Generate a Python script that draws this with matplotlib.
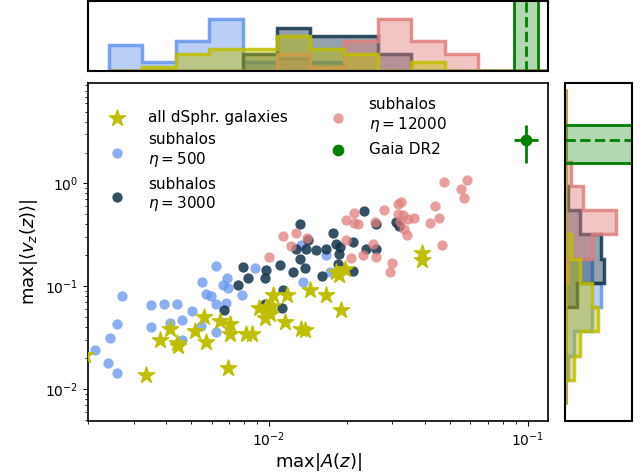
import numpy as np
import matplotlib
matplotlib.use("Agg")
import matplotlib.pyplot as plt
from matplotlib.colors import to_rgba

# --- data -----------------------------------------------------------------
# subhalos eta = 500
blue_x = [0.00622, 0.00886, 0.00551, 0.00690, 0.00664, 0.00694, 0.00569, 0.00598,
          0.00789, 0.00270, 0.00349, 0.00391, 0.00441, 0.00624, 0.00684, 0.00506,
          0.00462, 0.00413, 0.00258, 0.00351, 0.00548, 0.00626, 0.00242, 0.00462,
          0.00212, 0.00238, 0.00258, 0.01334, 0.01354, 0.01668, 0.01718]
blue_y = [0.156, 0.152, 0.110, 0.119, 0.104, 0.0971, 0.0836, 0.0800,
          0.0824, 0.0805, 0.0650, 0.0669, 0.0669, 0.0669, 0.0689, 0.0572,
          0.0468, 0.0441, 0.0428, 0.0403, 0.0415, 0.0363, 0.0311, 0.0299,
          0.0239, 0.0180, 0.0142, 0.250, 0.110, 0.200, 0.138]

# subhalos eta = 3000
dark_x = [0.02331, 0.01315, 0.02588, 0.03112, 0.01769, 0.01416, 0.01812, 0.02114,
          0.01268, 0.01396, 0.01525, 0.01658, 0.01877, 0.01865, 0.02382, 0.02604,
          0.01323, 0.01107, 0.01374, 0.00977, 0.01239, 0.01856, 0.02114, 0.01609,
          0.00965, 0.01133, 0.01120, 0.00793, 0.00829, 0.00761, 0.00668, 0.00962,
          0.0319]
dark_y = [0.538, 0.406, 0.406, 0.425, 0.332, 0.280, 0.256, 0.269,
          0.229, 0.232, 0.224, 0.232, 0.241, 0.208, 0.232, 0.232,
          0.184, 0.160, 0.152, 0.143, 0.138, 0.166, 0.141, 0.127,
          0.1215, 0.0929, 0.0621, 0.154, 0.120, 0.104, 0.0585, 0.0669,
          0.387]

# subhalos eta = 12000
pink_x = [0.0474, 0.0584, 0.0555, 0.0570, 0.0278, 0.0316, 0.0323, 0.0438,
          0.0316, 0.0330, 0.0345, 0.0364, 0.0455, 0.0419, 0.0321, 0.0332,
          0.0343, 0.0466, 0.0298, 0.0293, 0.0214, 0.0198, 0.0213, 0.0221,
          0.0256, 0.01276, 0.01133, 0.01408, 0.01221, 0.0198, 0.0253, 0.0230,
          0.0260, 0.0208, 0.0100]
pink_y = [1.03, 1.07, 0.875, 0.726, 0.556, 0.625, 0.661, 0.598,
          0.508, 0.489, 0.454, 0.461, 0.463, 0.414, 0.421, 0.363,
          0.313, 0.250, 0.170, 0.137, 0.515, 0.437, 0.412, 0.400,
          0.418, 0.331, 0.306, 0.292, 0.248, 0.280, 0.260, 0.202,
          0.1925, 0.188, 0.1925]

# dSph galaxies
dsph_x = [0.00195, 0.00335, 0.00380, 0.00415, 0.00441, 0.00517, 0.00559, 0.00573,
          0.00645, 0.00709, 0.00709, 0.00694, 0.00818, 0.00863, 0.00915, 0.00977,
          0.0103, 0.00962, 0.01036, 0.01174, 0.01150, 0.01437, 0.01668, 0.01334,
          0.01374, 0.01812, 0.01865, 0.01963, 0.01906, 0.0389, 0.0389, 0.01006,
          0.00443]
dsph_y = [0.0214, 0.0137, 0.0299, 0.0388, 0.0282, 0.0368, 0.0504, 0.0288,
          0.0457, 0.0434, 0.0347, 0.0161, 0.0347, 0.0347, 0.0621, 0.0630,
          0.0640, 0.0486, 0.0818, 0.0831, 0.0450, 0.0915, 0.0818, 0.0380,
          0.0374, 0.138, 0.128, 0.1485, 0.0585, 0.2115, 0.179, 0.0543,
          0.0264]

# Gaia DR2
gaia_x, gaia_xerr = 0.099, 0.0105
gaia_y, gaia_yerr = 2.62, 1.05

# marginal histogram counts (log bins)
xbins = 10 ** np.arange(-2.62, -0.75, 0.13)
top_blue = [6, 2, 7, 12, 2, 3, 2, 0, 0, 0, 0, 0, 0, 0]
top_dark = [0, 0, 0, 0, 4, 10, 8, 8, 4, 0, 0, 0, 0, 0]
top_pink = [0, 0, 0, 0, 0, 4, 1, 7, 12, 7, 4, 0, 0, 0]
top_dsph = [0, 1, 4, 5, 5, 8, 5, 4, 0, 2, 0, 0, 0, 0]

ybins = 10 ** np.linspace(-2.147, 0.921, 14)
# bins listed bottom -> top
right_blue = [0, 1, 3, 9, 12, 9, 0, 0, 0, 0, 0, 0, 0]
right_dark = [0, 0, 0, 0, 4, 13, 12, 5, 1, 0, 0, 0, 0]
right_pink = [0, 0, 0, 0, 0, 1, 9, 17, 6, 2, 0, 0, 0]
right_dsph = [0, 3, 5, 11, 9, 5, 2, 0, 0, 0, 0, 0, 0]

c_blue = "cornflowerblue"
c_dark = "#12324a"
c_pink = "#e07f7c"
c_dsph = "y"

fig = plt.figure(figsize=(6.44, 4.74), dpi=100)
ax = fig.add_axes([0.137, 0.112, 0.714, 0.712])
ax_top = fig.add_axes([0.137, 0.850, 0.714, 0.148], sharex=ax)
ax_right = fig.add_axes([0.877, 0.112, 0.1036, 0.712], sharey=ax)

ax.scatter(dsph_x, dsph_y, marker="*", s=150, color=c_dsph, label="all dSphr. galaxies", zorder=4)
ax.scatter(blue_x, blue_y, s=55, color=c_blue, alpha=0.75, lw=0, label="subhalos\n$\\eta = 500$")
ax.scatter(dark_x, dark_y, s=55, color=c_dark, alpha=0.85, lw=0, label="subhalos\n$\\eta = 3000$")
ax.scatter(pink_x, pink_y, s=55, color=c_pink, alpha=0.75, lw=0, label="subhalos\n$\\eta = 12000$")
ax.errorbar(gaia_x, gaia_y, xerr=gaia_xerr, yerr=gaia_yerr, fmt="none", ecolor="g",
            elinewidth=2)
ax.scatter(gaia_x, gaia_y, s=55, color="g", label="Gaia DR2", zorder=5)

ax.set_xscale("log")
ax.set_yscale("log")
ax.set_xlim(0.002, 0.12)
ax.set_ylim(0.0049, 9.4)
ax.set_xlabel(r"$\max|A(z)|$", fontsize=13, labelpad=1)
ax.set_ylabel(r"$\max|\langle v_z(z)\rangle|$", fontsize=13)
ax.tick_params(labelsize=10)

ax.legend(loc="upper left", ncol=2, frameon=False, fontsize=11,
          columnspacing=2.3, handletextpad=1.0)

# marginals
for counts, c in [(top_blue, c_blue), (top_dark, c_dark), (top_pink, c_pink), (top_dsph, c_dsph)]:
    ax_top.hist(xbins[:-1], bins=xbins, weights=counts, histtype="stepfilled",
                facecolor=to_rgba(c, 0.45), edgecolor=to_rgba(c, 0.85), lw=2.5)
ax_top.axvspan(gaia_x - gaia_xerr, gaia_x + gaia_xerr, color="g", alpha=0.3, lw=0)
ax_top.axvline(gaia_x - gaia_xerr, color="g", lw=2)
ax_top.axvline(gaia_x + gaia_xerr, color="g", lw=2)
ax_top.axvline(gaia_x, color="g", lw=2, ls="--")
ax_top.set_ylim(0, 16.2)

for counts, c in [(right_blue, c_blue), (right_dark, c_dark), (right_pink, c_pink), (right_dsph, c_dsph)]:
    ax_right.hist(ybins[:-1], bins=ybins, weights=counts, histtype="stepfilled",
                  orientation="horizontal",
                  facecolor=to_rgba(c, 0.45), edgecolor=to_rgba(c, 0.85), lw=2.5)
ax_right.axhspan(gaia_y - gaia_yerr, gaia_y + gaia_yerr, color="g", alpha=0.3, lw=0)
ax_right.axhline(gaia_y - gaia_yerr, color="g", lw=2)
ax_right.axhline(gaia_y + gaia_yerr, color="g", lw=2)
ax_right.axhline(gaia_y, color="g", lw=2, ls="--")
ax_right.set_xlim(0, 22)

for a in (ax_top, ax_right):
    a.tick_params(which="both", left=False, bottom=False, labelleft=False, labelbottom=False)
    for s in a.spines.values():
        s.set_linewidth(1.5)
for s in ax.spines.values():
    s.set_linewidth(1.2)

fig.savefig("out.png", dpi=100)
